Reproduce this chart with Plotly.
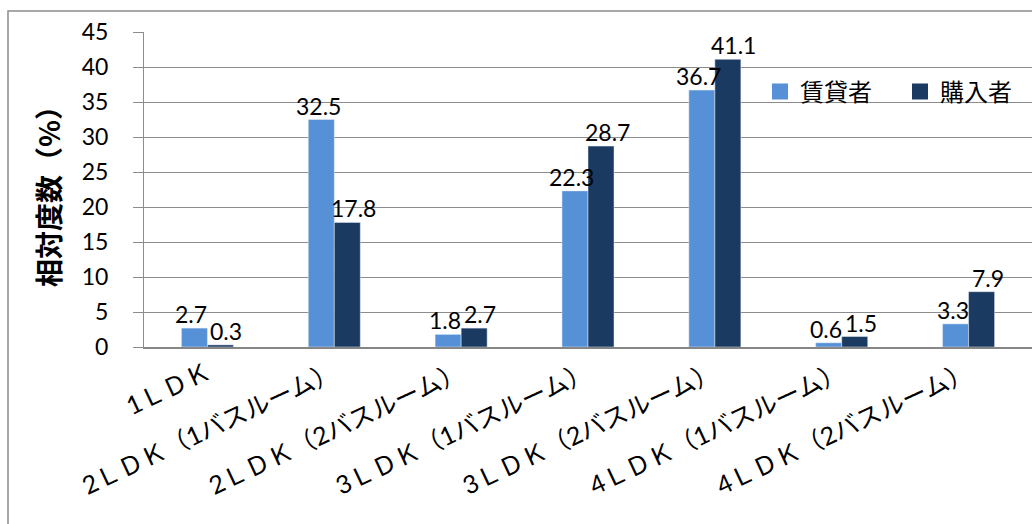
import plotly.graph_objects as go

categories = ["1ＬＤＫ", "2ＬＤＫ（1バスルーム）", "2ＬＤＫ（2バスルーム）", "3ＬＤＫ（1バスルーム）",
              "3ＬＤＫ（2バスルーム）", "4ＬＤＫ（1バスルーム）", "4ＬＤＫ（2バスルーム）"]
renters = [2.7, 32.5, 1.8, 22.3, 36.7, 0.6, 3.3]
buyers = [0.3, 17.8, 2.7, 28.7, 41.1, 1.5, 7.9]
series_names = ["賃貸者", "購入者"]
colors = ["#5690D6", "#1B3A62"]
y_ticks = [0, 5, 10, 15, 20, 25, 30, 35, 40, 45]

FONT = "Lato, Noto Sans CJK JP, sans-serif"
W, H = 1032, 524
L, R, T, B = 144, 0, 32, 177
pw, ph = W - L - R, H - T - B
BARGAP = 0.59
bar_px = (1 - BARGAP) / 2 * pw / len(categories)

fig = go.Figure()
for vals, name, col in zip([renters, buyers], series_names, colors):
    fig.add_trace(go.Bar(x=categories, y=vals, name=name, marker_color=col, showlegend=False))
# legend entries with larger square markers
for name, col in zip(series_names, colors):
    fig.add_trace(go.Scatter(x=[None], y=[None], mode="markers", name=name,
                             marker=dict(symbol="square", size=17, color=col)))

# data labels above each bar
annotations = []
for vals, side, nudge in zip([renters, buyers], [-1, 1], [-3, 6]):
    for c, v in zip(categories, vals):
        annotations.append(dict(x=c, y=v, xref="x", yref="y", text=f"{v:.1f}", showarrow=False,
                                xanchor="center", yanchor="bottom", xshift=side * bar_px / 2 + nudge,
                                yshift=-2, font=dict(size=23, color="#000")))

def px_x(p):
    return (p - L) / pw

def px_y(p):
    return (H - B - p) / ph

fig.update_layout(
    width=W, height=H,
    margin=dict(l=L, r=R, t=T, b=B, autoexpand=False),
    paper_bgcolor="white", plot_bgcolor="white",
    font=dict(family=FONT, size=20, color="#000"),
    barmode="group", bargap=BARGAP, bargroupgap=0,
    showlegend=True,
    annotations=annotations,
    legend=dict(orientation="h", x=px_x(760), y=px_y(92), xanchor="left", yanchor="middle",
                font=dict(size=24), bgcolor="rgba(0,0,0,0)", itemwidth=30,
                entrywidth=95, itemsizing="trace"),
    xaxis=dict(showline=True, linecolor="#868686", linewidth=1.5, tickangle=-25,
               tickfont=dict(size=25), ticks="", showgrid=False),
    yaxis=dict(range=[0, 45], tickvals=y_ticks, showgrid=True, gridcolor="#8C8C8C", gridwidth=1,
               showline=True, linecolor="#8C8C8C", linewidth=1, ticks="outside", ticklen=10,
               tickcolor="#8C8C8C", ticklabelstandoff=20, tickfont=dict(size=23), zeroline=False,
               title=dict(text="<b>相対度数（%）</b>",
                          font=dict(size=28, family="Noto Sans CJK JP"), standoff=12)),
    shapes=[dict(type="rect", xref="paper", yref="paper",
                 x0=px_x(8), x1=px_x(1045), y0=px_y(540), y1=px_y(11),
                 line=dict(color="#8C8C8C", width=1.5), fillcolor="rgba(0,0,0,0)", layer="below")],
)

fig.write_html("out.html")
